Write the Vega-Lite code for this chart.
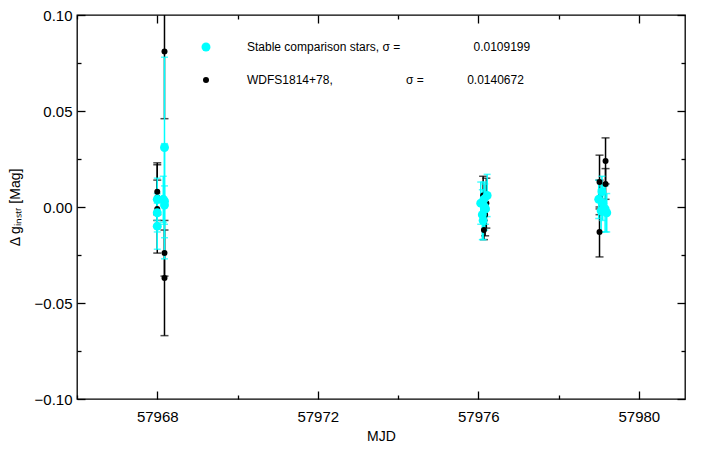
{
  "$schema": "https://vega.github.io/schema/vega-lite/v6.json",
  "width": 608,
  "height": 384,
  "autosize": {"type": "none"},
  "padding": {"left": 77, "top": 15, "right": 42, "bottom": 58},
  "background": "white",
  "config": {
    "view": {"stroke": "#000", "strokeWidth": 1.3},
    "font": "Liberation Sans",
    "axis": {
      "grid": false,
      "domain": false,
      "ticks": true,
      "tickColor": "#000",
      "tickWidth": 1.3,
      "labelColor": "#000",
      "titleColor": "#000",
      "labelFontSize": 15,
      "titleFontSize": 14,
      "titleFontWeight": "normal"
    }
  },
  "data": {
    "values": [
      {"mjd": 57968.0, "dmag": 0.008, "err": 0.015, "obj": "WDFS1814+78"},
      {"mjd": 57968.0, "dmag": 0.005, "err": 0.009, "obj": "WDFS1814+78"},
      {"mjd": 57968.0, "dmag": -0.001, "err": 0.023, "obj": "WDFS1814+78"},
      {"mjd": 57968.18, "dmag": 0.081, "err": 0.035, "obj": "WDFS1814+78"},
      {"mjd": 57968.18, "dmag": -0.024, "err": 0.012, "obj": "WDFS1814+78"},
      {"mjd": 57968.18, "dmag": -0.037, "err": 0.030, "obj": "WDFS1814+78"},
      {"mjd": 57976.12, "dmag": 0.006, "err": 0.010, "obj": "WDFS1814+78"},
      {"mjd": 57976.17, "dmag": -0.004, "err": 0.011, "obj": "WDFS1814+78"},
      {"mjd": 57976.14, "dmag": -0.012, "err": 0.005, "obj": "WDFS1814+78"},
      {"mjd": 57976.2, "dmag": 0.002, "err": 0.013, "obj": "WDFS1814+78"},
      {"mjd": 57979.02, "dmag": 0.013, "err": 0.014, "obj": "WDFS1814+78"},
      {"mjd": 57979.17, "dmag": 0.024, "err": 0.012, "obj": "WDFS1814+78"},
      {"mjd": 57979.17, "dmag": 0.012, "err": 0.008, "obj": "WDFS1814+78"},
      {"mjd": 57979.02, "dmag": -0.013, "err": 0.013, "obj": "WDFS1814+78"},
      {"mjd": 57979.02, "dmag": 0.005, "err": 0.009, "obj": "WDFS1814+78"},
      {"mjd": 57968.0, "dmag": 0.004, "err": 0.011, "obj": "Stable comparison stars"},
      {"mjd": 57968.0, "dmag": -0.003, "err": 0.010, "obj": "Stable comparison stars"},
      {"mjd": 57968.0, "dmag": -0.010, "err": 0.012, "obj": "Stable comparison stars"},
      {"mjd": 57968.18, "dmag": 0.031, "err": 0.047, "obj": "Stable comparison stars"},
      {"mjd": 57968.18, "dmag": 0.003, "err": 0.030, "obj": "Stable comparison stars"},
      {"mjd": 57968.18, "dmag": 0.001, "err": 0.010, "obj": "Stable comparison stars"},
      {"mjd": 57968.15, "dmag": 0.004, "err": 0.012, "obj": "Stable comparison stars"},
      {"mjd": 57976.06, "dmag": 0.002, "err": 0.011, "obj": "Stable comparison stars"},
      {"mjd": 57976.10, "dmag": -0.004, "err": 0.013, "obj": "Stable comparison stars"},
      {"mjd": 57976.14, "dmag": 0.004, "err": 0.009, "obj": "Stable comparison stars"},
      {"mjd": 57976.18, "dmag": -0.001, "err": 0.008, "obj": "Stable comparison stars"},
      {"mjd": 57976.12, "dmag": -0.007, "err": 0.010, "obj": "Stable comparison stars"},
      {"mjd": 57976.22, "dmag": 0.006, "err": 0.011, "obj": "Stable comparison stars"},
      {"mjd": 57976.16, "dmag": 0.0, "err": 0.012, "obj": "Stable comparison stars"},
      {"mjd": 57979.0, "dmag": 0.004, "err": 0.010, "obj": "Stable comparison stars"},
      {"mjd": 57979.06, "dmag": -0.002, "err": 0.011, "obj": "Stable comparison stars"},
      {"mjd": 57979.1, "dmag": 0.002, "err": 0.009, "obj": "Stable comparison stars"},
      {"mjd": 57979.16, "dmag": -0.001, "err": 0.012, "obj": "Stable comparison stars"},
      {"mjd": 57979.2, "dmag": -0.003, "err": 0.010, "obj": "Stable comparison stars"},
      {"mjd": 57979.08, "dmag": 0.008, "err": 0.008, "obj": "Stable comparison stars"}
    ]
  },
  "layer": [
    {
      "transform": [{"filter": "datum.obj === 'WDFS1814+78'"}],
      "mark": {"type": "errorbar", "ticks": {"size": 8}, "thickness": 1.5, "color": "#000", "clip": true},
      "encoding": {
        "x": {"field": "mjd", "type": "quantitative", "scale": {"domain": [57966, 57981.15], "nice": false, "zero": false}, "axis": null},
        "y": {"field": "dmag", "type": "quantitative", "scale": {"domain": [-0.1, 0.1], "nice": false, "zero": false}, "axis": null},
        "yError": {"field": "err"}
      }
    },
    {
      "transform": [{"filter": "datum.obj === 'Stable comparison stars'"}],
      "mark": {"type": "errorbar", "ticks": {"size": 7}, "thickness": 1.5, "color": "#00FFFF", "clip": true},
      "encoding": {
        "x": {"field": "mjd", "type": "quantitative", "axis": null},
        "y": {"field": "dmag", "type": "quantitative", "axis": null},
        "yError": {"field": "err"}
      }
    },
    {
      "mark": {"type": "point", "filled": true, "opacity": 1, "clip": true, "shape": "circle"},
      "encoding": {
        "x": {
          "field": "mjd", "type": "quantitative",
          "axis": {
            "orient": "bottom",
            "values": [57968, 57972, 57976, 57980],
            "format": "d",
            "tickSize": -8,
            "labelPadding": 18,
            "title": "MJD",
            "titlePadding": 5
          }
        },
        "y": {
          "field": "dmag", "type": "quantitative",
          "axis": {
            "orient": "left",
            "values": [-0.1, -0.05, 0, 0.05, 0.1],
            "labelExpr": "replace(format(datum.value, '.2f'), '-', '\u2212')",
            "tickSize": -8,
            "labelPadding": 13,
            "title": "\u0394 g\u1d62\u2099\u209b\u209c\u1d63 [Mag]",
            "titlePadding": 12
          }
        },
        "color": {
          "field": "obj", "type": "nominal",
          "scale": {"domain": ["Stable comparison stars", "WDFS1814+78"], "range": ["#00FFFF", "#000000"]},
          "legend": {
            "orient": "none",
            "legendX": 123,
            "legendY": 26,
            "title": null,
            "padding": 0,
            "symbolType": "circle",
            "symbolSize": 32,
            "symbolStrokeWidth": 0,
            "labelFontSize": 12,
            "labelColor": "#000",
            "labelOffset": 35,
            "rowPadding": 21,
            "labelLimit": 500,
            "labelExpr": "datum.label === 'WDFS1814+78' ? 'WDFS1814+78,\u00a0\u00a0\u00a0\u00a0\u00a0\u00a0\u00a0\u00a0\u00a0\u00a0\u00a0\u00a0\u00a0\u00a0\u00a0\u00a0\u00a0\u00a0\u00a0\u00a0\u00a0\u00a0\u03c3 =\u00a0\u00a0\u00a0\u00a0\u00a0\u00a0\u00a0\u00a0\u00a0\u00a0\u00a0\u00a0\u00a00.0140672' : 'Stable comparison stars, \u03c3 =\u00a0\u00a0\u00a0\u00a0\u00a0\u00a0\u00a0\u00a0\u00a0\u00a0\u00a0\u00a0\u00a0\u00a0\u00a0\u00a0\u00a0\u00a0\u00a0\u00a0\u00a0\u00a00.0109199'"
          }
        },
        "size": {
          "field": "obj", "type": "nominal",
          "scale": {"domain": ["Stable comparison stars", "WDFS1814+78"], "range": [80, 36]},
          "legend": null
        }
      }
    },
    {
      "mark": {"type": "point", "opacity": 0},
      "encoding": {
        "x": {
          "field": "mjd", "type": "quantitative",
          "axis": {"orient": "top", "values": [57968, 57972, 57976, 57980], "labels": false, "title": null, "tickSize": -8}
        },
        "y": {
          "field": "dmag", "type": "quantitative",
          "axis": {"orient": "right", "values": [-0.1, -0.05, 0, 0.05, 0.1], "labels": false, "title": null, "tickSize": -8}
        }
      }
    },
    {
      "mark": {"type": "point", "opacity": 0},
      "encoding": {
        "x": {
          "field": "mjd", "type": "quantitative",
          "axis": {"orient": "bottom", "values": [57966, 57970, 57974, 57978], "labels": false, "title": null, "tickSize": -4}
        },
        "y": {
          "field": "dmag", "type": "quantitative",
          "axis": {"orient": "left", "values": [-0.075, -0.025, 0.025, 0.075], "labels": false, "title": null, "tickSize": -4}
        }
      }
    },
    {
      "mark": {"type": "point", "opacity": 0},
      "encoding": {
        "x": {
          "field": "mjd", "type": "quantitative",
          "axis": {"orient": "top", "values": [57966, 57970, 57974, 57978], "labels": false, "title": null, "tickSize": -4}
        },
        "y": {
          "field": "dmag", "type": "quantitative",
          "axis": {"orient": "right", "values": [-0.075, -0.025, 0.025, 0.075], "labels": false, "title": null, "tickSize": -4}
        }
      }
    }
  ],
  "resolve": {"axis": {"x": "independent", "y": "independent"}}
}
